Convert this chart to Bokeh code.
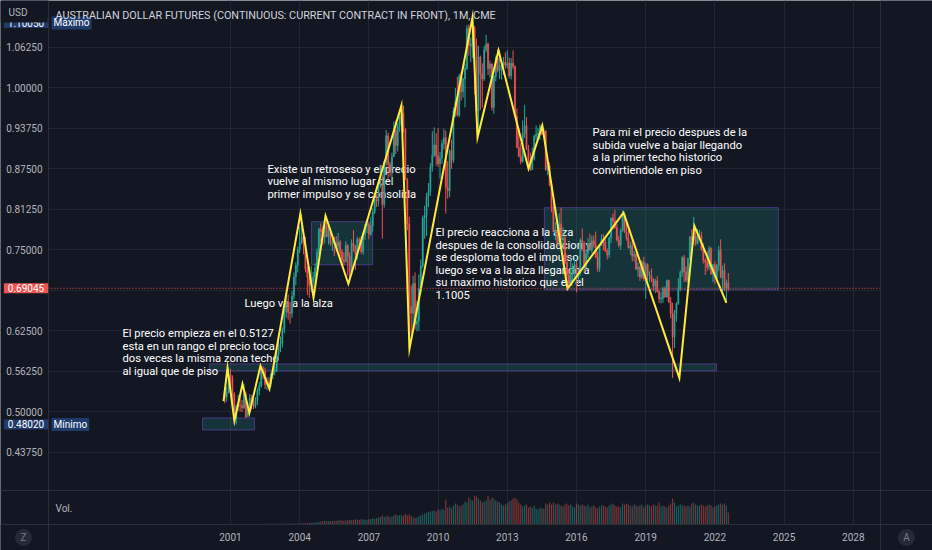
from bokeh.plotting import figure
from bokeh.models import (Range1d, FixedTicker, PrintfTickFormatter, Span, Label,
                          ColumnDataSource, BoxAnnotation)
from bokeh.core.properties import value
from bokeh.embed import file_html
from bokeh.resources import INLINE

# ---------------- data ----------------
TITLE = "AUSTRALIAN DOLLAR FUTURES (CONTINUOUS: CURRENT CONTRACT IN FRONT), 1M, CME"
FIRST_BAR = 2000 + 9 / 12          # October 2000, one bar per month
first_open = 0.532

closes = [
    0.522, 0.530, 0.557,
    0.552, 0.527, 0.489, 0.508, 0.510, 0.509, 0.506, 0.527, 0.492, 0.505, 0.521, 0.511,
    0.508, 0.517, 0.532, 0.540, 0.565, 0.562, 0.542, 0.545, 0.543, 0.557, 0.562, 0.564,
    0.588, 0.604, 0.605, 0.627, 0.654, 0.670, 0.653, 0.652, 0.678, 0.708, 0.726, 0.750,
    0.761, 0.770, 0.760, 0.720, 0.708, 0.695, 0.700, 0.708, 0.722, 0.746, 0.782, 0.778,
    0.770, 0.788, 0.770, 0.778, 0.760, 0.762, 0.760, 0.755, 0.762, 0.747, 0.734, 0.732,
    0.756, 0.740, 0.715, 0.760, 0.756, 0.743, 0.766, 0.763, 0.747, 0.774, 0.787, 0.789,
    0.774, 0.787, 0.808, 0.828, 0.825, 0.848, 0.853, 0.820, 0.886, 0.926, 0.882, 0.876,
    0.894, 0.934, 0.911, 0.942, 0.955, 0.961, 0.937, 0.858, 0.790, 0.662, 0.652, 0.698,
    0.635, 0.640, 0.690, 0.725, 0.799, 0.803, 0.833, 0.840, 0.878, 0.896, 0.912, 0.895,
    0.883, 0.892, 0.914, 0.923, 0.846, 0.841, 0.903, 0.888, 0.965, 0.979, 0.958, 1.019,
    0.994, 1.014, 1.030, 1.092, 1.065, 1.068, 1.093, 1.065, 0.964, 1.048, 1.022, 1.014,
    1.059, 1.068, 1.030, 1.037, 0.970, 1.018, 1.046, 1.027, 1.034, 1.035, 1.040, 1.035,
    1.038, 1.019, 1.038, 1.033, 0.956, 0.908, 0.894, 0.886, 0.930, 0.942, 0.905, 0.888,
    0.874, 0.890, 0.925, 0.928, 0.930, 0.941, 0.928, 0.933, 0.874, 0.880, 0.850, 0.816,
    0.778, 0.780, 0.761, 0.790, 0.765, 0.768, 0.730, 0.711, 0.700, 0.712, 0.721, 0.727,
    0.706, 0.713, 0.765, 0.760, 0.722, 0.744, 0.759, 0.750, 0.764, 0.758, 0.738, 0.721,
    0.757, 0.766, 0.762, 0.748, 0.742, 0.768, 0.799, 0.794, 0.784, 0.765, 0.757, 0.780,
    0.805, 0.777, 0.768, 0.753, 0.756, 0.740, 0.743, 0.720, 0.723, 0.708, 0.731, 0.705,
    0.727, 0.710, 0.710, 0.705, 0.694, 0.702, 0.685, 0.674, 0.675, 0.690, 0.677, 0.703,
    0.669, 0.651, 0.615, 0.652, 0.667, 0.690, 0.715, 0.738, 0.716, 0.703, 0.736, 0.770,
    0.765, 0.771, 0.760, 0.772, 0.772, 0.750, 0.734, 0.731, 0.723, 0.752, 0.713, 0.727,
    0.707, 0.726, 0.749, 0.707, 0.718, 0.690, 0.699, 0.69045,
]

highs = [
    0.536, 0.538, 0.5675,
    0.566, 0.556, 0.530, 0.511, 0.526, 0.522, 0.518, 0.5427, 0.531, 0.512, 0.527, 0.526,
    0.521, 0.522, 0.536, 0.546, 0.5706, 0.570, 0.568, 0.553, 0.553, 0.560, 0.568, 0.570,
    0.593, 0.611, 0.616, 0.630, 0.659, 0.680, 0.681, 0.669, 0.686, 0.715, 0.731, 0.755,
    0.786, 0.8045, 0.781, 0.770, 0.725, 0.718, 0.725, 0.716, 0.729, 0.752, 0.784, 0.791,
    0.786, 0.796, 0.802, 0.789, 0.781, 0.771, 0.770, 0.771, 0.776, 0.765, 0.751, 0.746,
    0.763, 0.759, 0.746, 0.766, 0.780, 0.757, 0.770, 0.769, 0.771, 0.777, 0.790, 0.797,
    0.792, 0.801, 0.814, 0.835, 0.836, 0.852, 0.880, 0.866, 0.888, 0.935, 0.931, 0.886,
    0.900, 0.948, 0.950, 0.946, 0.960, 0.966, 0.9728, 0.936, 0.861, 0.801, 0.695, 0.710,
    0.715, 0.671, 0.712, 0.735, 0.803, 0.818, 0.838, 0.853, 0.884, 0.933, 0.939, 0.930,
    0.938, 0.901, 0.920, 0.937, 0.934, 0.887, 0.905, 0.920, 0.970, 1.000, 1.017, 1.022,
    1.025, 1.016, 1.038, 1.097, 1.098, 1.078, 1.1005, 1.096, 1.076, 1.065, 1.050, 1.038,
    1.065, 1.082, 1.070, 1.042, 1.038, 1.020, 1.050, 1.060, 1.058, 1.043, 1.048, 1.055,
    1.058, 1.047, 1.046, 1.058, 1.035, 0.968, 0.938, 0.915, 0.950, 0.974, 0.955, 0.912,
    0.900, 0.908, 0.928, 0.942, 0.938, 0.944, 0.944, 0.938, 0.935, 0.889, 0.885, 0.850,
    0.825, 0.793, 0.785, 0.806, 0.815, 0.785, 0.772, 0.742, 0.720, 0.738, 0.729, 0.738,
    0.733, 0.720, 0.768, 0.783, 0.763, 0.750, 0.768, 0.775, 0.772, 0.772, 0.778, 0.747,
    0.759, 0.774, 0.774, 0.766, 0.752, 0.770, 0.800, 0.806, 0.812, 0.790, 0.772, 0.783,
    0.811, 0.804, 0.791, 0.781, 0.762, 0.768, 0.748, 0.745, 0.731, 0.725, 0.734, 0.739,
    0.730, 0.729, 0.717, 0.721, 0.706, 0.705, 0.709, 0.688, 0.685, 0.693, 0.693, 0.704,
    0.703, 0.677, 0.668, 0.657, 0.669, 0.706, 0.718, 0.740, 0.742, 0.724, 0.738, 0.771,
    0.782, 0.801, 0.785, 0.782, 0.781, 0.778, 0.760, 0.737, 0.748, 0.756, 0.754, 0.728,
    0.732, 0.728, 0.756, 0.766, 0.726, 0.729, 0.704, 0.714,
]

lows = [
    0.5127, 0.515, 0.528,
    0.538, 0.515, 0.486, 0.4802, 0.501, 0.500, 0.499, 0.504, 0.490, 0.495, 0.500, 0.503,
    0.504, 0.505, 0.510, 0.525, 0.537, 0.550, 0.535, 0.533, 0.535, 0.538, 0.550, 0.556,
    0.561, 0.583, 0.592, 0.599, 0.621, 0.645, 0.642, 0.636, 0.645, 0.673, 0.695, 0.715,
    0.745, 0.758, 0.743, 0.715, 0.680, 0.676, 0.685, 0.679, 0.696, 0.718, 0.742, 0.762,
    0.757, 0.760, 0.769, 0.758, 0.756, 0.748, 0.740, 0.747, 0.750, 0.740, 0.728, 0.726,
    0.730, 0.710, 0.6985, 0.710, 0.747, 0.719, 0.735, 0.751, 0.744, 0.742, 0.765, 0.776,
    0.766, 0.772, 0.778, 0.805, 0.816, 0.817, 0.846, 0.767, 0.815, 0.880, 0.856, 0.863,
    0.852, 0.893, 0.898, 0.902, 0.932, 0.944, 0.931, 0.858, 0.780, 0.5969, 0.620, 0.630,
    0.627, 0.624, 0.625, 0.682, 0.722, 0.767, 0.771, 0.816, 0.833, 0.871, 0.893, 0.880,
    0.878, 0.860, 0.883, 0.905, 0.806, 0.829, 0.831, 0.875, 0.884, 0.955, 0.956, 0.955,
    0.980, 0.985, 0.970, 1.028, 1.050, 1.040, 1.046, 0.990, 0.950, 0.935, 0.966, 0.970,
    1.011, 1.055, 1.020, 1.016, 0.965, 0.960, 1.010, 1.024, 1.014, 1.013, 1.020, 1.030,
    1.030, 1.015, 1.013, 1.029, 0.955, 0.907, 0.893, 0.882, 0.885, 0.923, 0.904, 0.877,
    0.872, 0.873, 0.888, 0.920, 0.918, 0.920, 0.927, 0.923, 0.872, 0.865, 0.848, 0.808,
    0.777, 0.765, 0.755, 0.755, 0.764, 0.758, 0.728, 0.692, 0.6897, 0.695, 0.700, 0.702,
    0.684, 0.697, 0.710, 0.748, 0.715, 0.717, 0.737, 0.748, 0.745, 0.753, 0.737, 0.716,
    0.716, 0.756, 0.749, 0.747, 0.735, 0.737, 0.760, 0.781, 0.783, 0.763, 0.754, 0.750,
    0.778, 0.776, 0.764, 0.752, 0.742, 0.732, 0.732, 0.719, 0.708, 0.702, 0.705, 0.702,
    0.674, 0.703, 0.700, 0.700, 0.686, 0.683, 0.684, 0.668, 0.667, 0.668, 0.676, 0.676,
    0.668, 0.644, 0.552, 0.598, 0.639, 0.665, 0.686, 0.708, 0.700, 0.700, 0.699, 0.734,
    0.757, 0.757, 0.756, 0.758, 0.766, 0.748, 0.729, 0.711, 0.717, 0.719, 0.711, 0.700,
    0.697, 0.705, 0.717, 0.706, 0.683, 0.686, 0.670, 0.686,
]

volumes = [  # thousands of contracts per month
    60, 55, 50,
    55, 60, 70, 60, 55, 60, 65, 60, 70, 60, 55, 50,
    55, 60, 60, 65, 60, 65, 70, 60, 65, 70, 65, 60,
    70, 75, 80, 75, 80, 85, 90, 85, 90, 95, 100, 95,
    110, 120, 130, 140, 150, 160, 170, 180, 200, 220, 260, 300,
    320, 340, 350, 330, 360, 380, 360, 370, 400, 420, 410, 380,
    400, 420, 450, 430, 480, 500, 470, 460, 520, 500, 480, 470,
    520, 560, 620, 580, 620, 700, 760, 900, 760, 800, 880, 700,
    820, 900, 1000, 900, 950, 920, 880, 1050, 900, 1000, 850, 700,
    650, 700, 820, 900, 1000, 1100, 1200, 1250, 1300, 1350, 1400, 1300,
    1500, 1400, 1550, 1450, 2500, 1700, 1800, 1600, 1900, 2100, 2000, 1800,
    1900, 2000, 2300, 2200, 2700, 2500, 2400, 2900, 2800, 2600, 2400, 2200,
    2300, 2400, 2900, 2500, 2700, 2600, 2400, 2300, 2200, 2000, 1900, 2000,
    2100, 2300, 2400, 2600, 2700, 2500, 2200, 2000, 1800, 1900, 2000, 1700,
    1800, 1700, 1900, 1600, 1500, 1700, 1600, 1600, 2100, 2000, 2200, 2000,
    2200, 2000, 2100, 2000, 1900, 1800, 2000, 2100, 1900, 2000, 1800, 1700,
    2100, 2000, 1900, 2000, 1900, 1800, 2000, 1700, 1800, 1900, 1700, 1600,
    1800, 1900, 1900, 1800, 1700, 1900, 2000, 2100, 1900, 1800, 1800, 1700,
    2100, 2000, 2100, 2000, 1900, 1800, 2000, 1900, 1800, 1900, 2000, 1700,
    1900, 2000, 1900, 1800, 2000, 1900, 1900, 2200, 1800, 1900, 1800, 1700,
    1900, 2100, 2600, 2200, 1800, 1900, 2000, 1900, 1900, 1800, 1900, 1800,
    2100, 2200, 2000, 1900, 1900, 2000, 1900, 1800, 1900, 2000, 1900, 1700,
    1800, 1900, 2000, 2100, 2000, 2100, 1900, 1200,
]

# hand-drawn zigzag (decimal year, price)
zigzag_t = [2000.70, 2000.87, 2001.17, 2001.52, 2001.82, 2002.30, 2002.69, 2004.03,
            2004.60, 2005.12, 2006.11, 2008.41, 2008.76, 2011.49, 2011.71, 2012.62,
            2013.92, 2014.52, 2015.61, 2018.04, 2020.46, 2021.11, 2022.50]
zigzag_p = [0.516, 0.5675, 0.4855, 0.5427, 0.4978, 0.5706, 0.5350, 0.8057,
            0.6758, 0.8026, 0.6974, 0.9728, 0.5969, 1.1089, 0.9233, 1.0579,
            0.8753, 0.9418, 0.6897, 0.8073, 0.5520, 0.7871, 0.6680]

# zones drawn on the chart (start year, end year, top price, bottom price)
zone_left = [1999.79, 2000.09, 2004.51, 2014.61]
zone_right = [2002.04, 2022.07, 2007.16, 2024.75]
zone_top = [0.4901, 0.5736, 0.7933, 0.8150]
zone_bottom = [0.4716, 0.5628, 0.7268, 0.6880]

notes = [
    "El precio empieza en el 0.5127\nesta en un rango el precio toca\ndos veces la misma zona techo\nal igual que de piso",
    "Luego va a la alza",
    "Existe un retroseso y el precio\nvuelve al mismo lugar del\nprimer impulso y se consolida",
    "El precio reacciona a la alza\ndespues de la consolidadcion y\nse desploma todo el impulso\nluego se va a la alza llegando a\nsu maximo historico que es el\n1.1005",
    "Para mi el precio despues de la\nsubida vuelve a bajar llegando\na la primer techo historico\nconvirtiendole en piso",
]

price_ticks = [0.4375, 0.5, 0.5625, 0.625, 0.75, 0.8125, 0.875, 0.9375, 1.0, 1.0625]
grid_ticks = [0.4375, 0.5, 0.5625, 0.625, 0.6875, 0.75, 0.8125, 0.875, 0.9375, 1.0, 1.0625]
year_ticks = [2001, 2004, 2007, 2010, 2013, 2016, 2019, 2022, 2025, 2028]

# ---------------- style / layout ----------------
BG = "#131722"
GRID = "#222632"
SEP = "#2a2e39"
TXT = "#b2b5be"
UP = "#26a69a"
DOWN = "#ef5350"
ZIG = "#ffeb3b"
TAG = "#1f3b6b"
FONT = "Roboto"

W, H = 932, 550
YR0, PX_PER_YR = 1991.029, 23.066      # year at the left edge, pixels per year
PR0, PR_PER_PX = 1.1351, 0.0015450     # price at the top edge, price per pixel

def X(px):   # horizontal page position -> year
    return YR0 + px / PX_PER_YR

def Y(py):   # vertical page position -> price
    return PR0 - py * PR_PER_PX

n = len(closes)
t = [FIRST_BAR + i / 12 for i in range(n)]
opens = [first_open] + closes[:-1]
col = [UP if c >= o else DOWN for o, c in zip(opens, closes)]
src = ColumnDataSource(dict(
    t=t, v=volumes, h=highs, l=lows, col=col,
    top=[max(o, c) for o, c in zip(opens, closes)],
    bot=[min(o, c) for o, c in zip(opens, closes)],
))

p = figure(width=W, height=H, x_range=Range1d(X(0), X(W)), y_range=Range1d(Y(H), Y(0)),
           output_backend="svg", toolbar_location=None,
           min_border_left=0, min_border_right=0, min_border_top=0, min_border_bottom=0,
           background_fill_color=BG, border_fill_color=BG, outline_line_color=None)
vol_per_px = 2900 / 29.0
p.extra_y_ranges = {"vol": Range1d(-(H - 524) * vol_per_px, 524 * vol_per_px)}

# axes pinned to the pane edges
p.yaxis.fixed_location = X(48)
p.xaxis.fixed_location = Y(524)
p.yaxis.ticker = FixedTicker(ticks=price_ticks)
p.yaxis.formatter = PrintfTickFormatter(format="%.5f")
p.xaxis.ticker = FixedTicker(ticks=year_ticks)
p.xaxis.formatter = PrintfTickFormatter(format="%d")
for ax in (p.xaxis, p.yaxis):
    ax.major_label_text_color = TXT
    ax.major_label_text_font = FONT
    ax.major_label_text_font_size = "10px"
    ax.major_tick_line_color = None
    ax.minor_tick_line_color = None
    ax.major_tick_out = 0
    ax.major_tick_in = 0
    ax.axis_line_color = SEP
p.yaxis.major_label_standoff = 6
p.xaxis.major_label_standoff = 8

p.xgrid.ticker = FixedTicker(ticks=year_ticks)
p.ygrid.ticker = FixedTicker(ticks=grid_ticks)
p.xgrid.grid_line_color = GRID
p.ygrid.grid_line_color = GRID

# scale columns (hide the grid there)
p.quad(left=[X(0), X(880), X(0)], right=[X(48), X(W), X(W)],
       top=[Y(0), Y(0), Y(524)], bottom=[Y(H), Y(H), Y(H)],
       fill_color=BG, line_color=None)

# pane separators
p.add_layout(Span(location=Y(490), dimension="width", line_color=SEP, line_width=1))
p.add_layout(Span(location=X(880), dimension="height", line_color=SEP, line_width=1))

# zones
p.quad(left=zone_left, right=zone_right, top=zone_top, bottom=zone_bottom,
       fill_color=UP, fill_alpha=0.2, line_color="#5e45a8", line_alpha=0.7, line_width=1)

# notes (under the candles)
note_x = [X(122), X(244), X(267), X(435), X(592)]
note_y = [Y(326.5), Y(296.5), Y(162), Y(225.5), Y(125.5)]
p.text(x=note_x, y=note_y, text=notes, text_font=value(FONT), text_font_size="11.2px",
       text_color="#ffffff", text_align="left", text_baseline="top", text_line_height=0.965)

# volume
p.vbar(x="t", width=0.05, top="v", bottom=0, source=src, y_range_name="vol",
       fill_color="col", line_color=None, fill_alpha=0.5)

# candles
p.segment(x0="t", y0="l", x1="t", y1="h", source=src, line_color="col", line_width=1)
p.vbar(x="t", width=0.05, top="top", bottom="bot", source=src,
       fill_color="col", line_color="col", line_width=0.5)

# zigzag
p.line(zigzag_t, zigzag_p, line_color=ZIG, line_width=2, line_join="miter")

# last price line
last = closes[-1]
p.segment(x0=[X(48)], x1=[X(880)], y0=[last], y1=[last], line_color=DOWN,
          line_dash="1 2", line_width=1)

hi, lo = max(highs), min(lows)

def scale_tag(y, txt, bg):
    p.add_layout(Label(x=X(25.5), y=y, text=txt, text_align="center", text_baseline="middle",
                       text_color="#ffffff", text_font=FONT, text_font_size="10px",
                       background_fill_color=bg, padding=(4, 1)))

def pane_tag(y, txt):
    p.add_layout(Label(x=X(51), y=y, text=txt, text_align="left", text_baseline="middle",
                       text_color="#ffffff", text_font=FONT, text_font_size="10px",
                       background_fill_color=TAG, padding=(2, 1)))

scale_tag(hi, "%.5f" % hi, TAG)
scale_tag(lo, "%.5f" % lo, TAG)
scale_tag(last, "%.5f" % last, DOWN)
pane_tag(hi, "Máximo")
pane_tag(lo, "Mínimo")

# header band of the price scale (covers the upper part of the top tag)
p.add_layout(BoxAnnotation(left=X(0), right=X(47), top=Y(0), bottom=Y(22), fill_color=BG,
                           fill_alpha=1.0, line_color=None, level="overlay"))
p.add_layout(Label(x=X(8), y=Y(12), text="USD", text_align="left", text_baseline="middle",
                   text_color=TXT, text_font=FONT, text_font_size="10px", level="overlay"))

p.add_layout(Label(x=X(55), y=Y(15), text=TITLE, text_align="left", text_baseline="middle",
                   text_color="#d1d4dc", text_font=FONT, text_font_size="10.8px"))
p.add_layout(Label(x=X(55), y=Y(508), text="Vol.", text_align="left", text_baseline="middle",
                   text_color=TXT, text_font=FONT, text_font_size="10px"))

# corner buttons of the time scale
p.scatter(x=[X(23), X(906)], y=[Y(537), Y(537)], size=17, marker="circle",
          fill_color="#262a35", line_color=None)
p.text(x=[X(23), X(906)], y=[Y(537), Y(537)], text=["Z", "A"], text_font=value(FONT),
       text_font_size="10px", text_color="#787b86", text_align="center", text_baseline="middle")

open("out.html", "w").write(file_html(p, INLINE))
